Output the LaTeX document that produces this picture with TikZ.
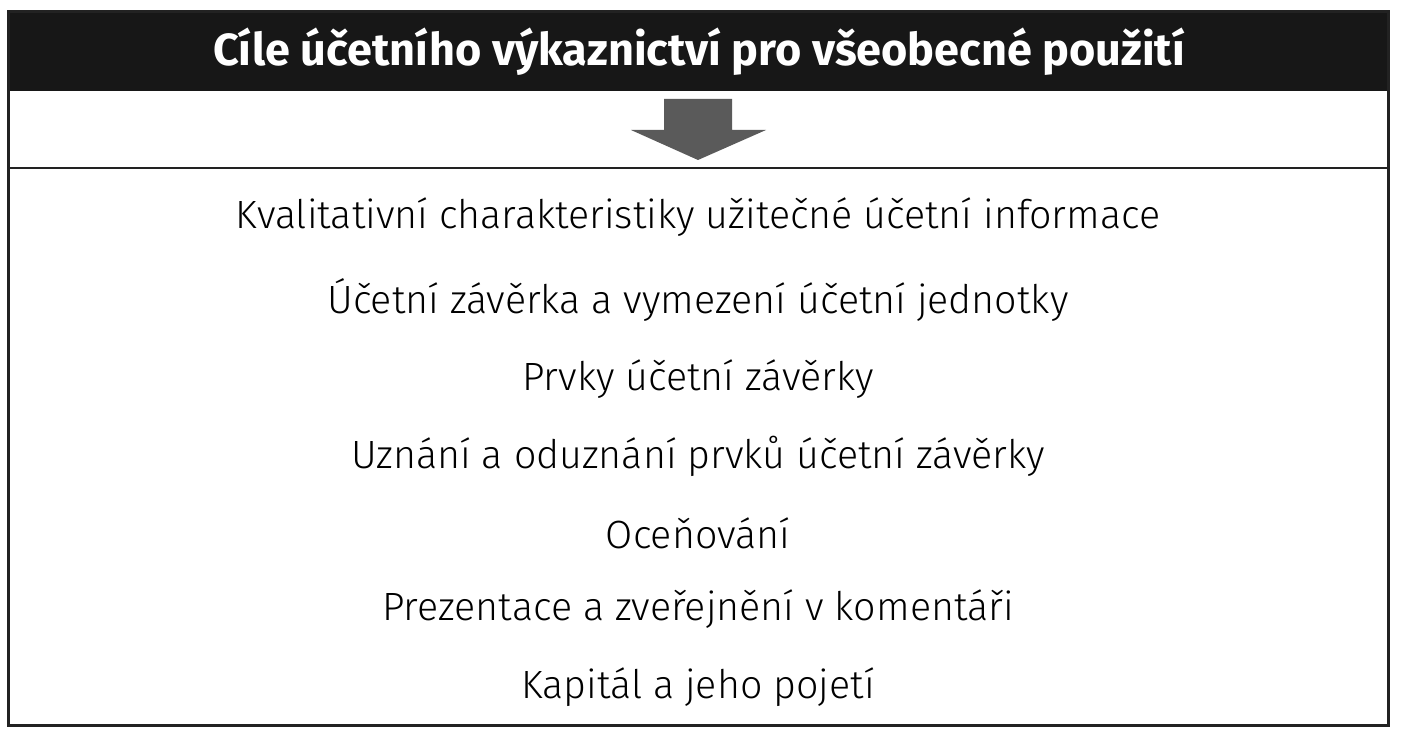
\documentclass[tikz,border=0pt]{standalone}
\usepackage{fontspec}
\IfFontExistsTF{Fira Sans Light}
  {\setmainfont{Fira Sans Light}[BoldFont={Fira Sans Bold}]}
  {\setmainfont{Fira Sans}}
\usetikzlibrary{positioning}
\definecolor{headblack}{HTML}{171717}
\definecolor{arrowgray}{HTML}{5A5A5A}
\definecolor{framegray}{HTML}{222222}

\begin{document}
\begin{tikzpicture}[x=0.5pt,y=-0.5pt,
  rowtext/.style={font=\fontsize{19.7}{24}\selectfont,text=black,inner sep=0pt}]
\useasboundingbox (0,0) rectangle (1405,733);
%draw header band
\fill[headblack] (8,12) rectangle (1388,91);
\node[text=white,font=\bfseries\fontsize{22.5}{26}\selectfont,inner sep=0pt] (title) at (699,52) {Cíle účetního výkaznictví pro všeobecné použití};
%draw arrow
\fill[arrowgray] (664,99) -- (732,99) -- (732,130) -- (766,130) -- (698,160)
  -- (631,130) -- (664,130) -- cycle;
%draw separator and frame
\draw[framegray,line width=1pt] (8,168) -- (1388,168);
\draw[framegray,line width=1.5pt] (8,12) rectangle (1388,725);
%draw rows
\node[rowtext] (kval) at (698,217) {Kvalitativní charakteristiky užitečné účetní informace};
\node[rowtext] (zaverka) at (698,300) {Účetní závěrka a vymezení účetní jednotky};
\node[rowtext] (prvky) at (698,379) {Prvky účetní závěrky};
\node[rowtext] (uznani) at (698,456) {Uznání a oduznání prvků účetní závěrky};
\node[rowtext] (oceneni) at (698,533) {Oceňování};
\node[rowtext] (prezentace) at (698,609) {Prezentace a zveřejnění v komentáři};
\node[rowtext] (kapital) at (698,687) {Kapitál a jeho pojetí};
\end{tikzpicture}
\end{document}
